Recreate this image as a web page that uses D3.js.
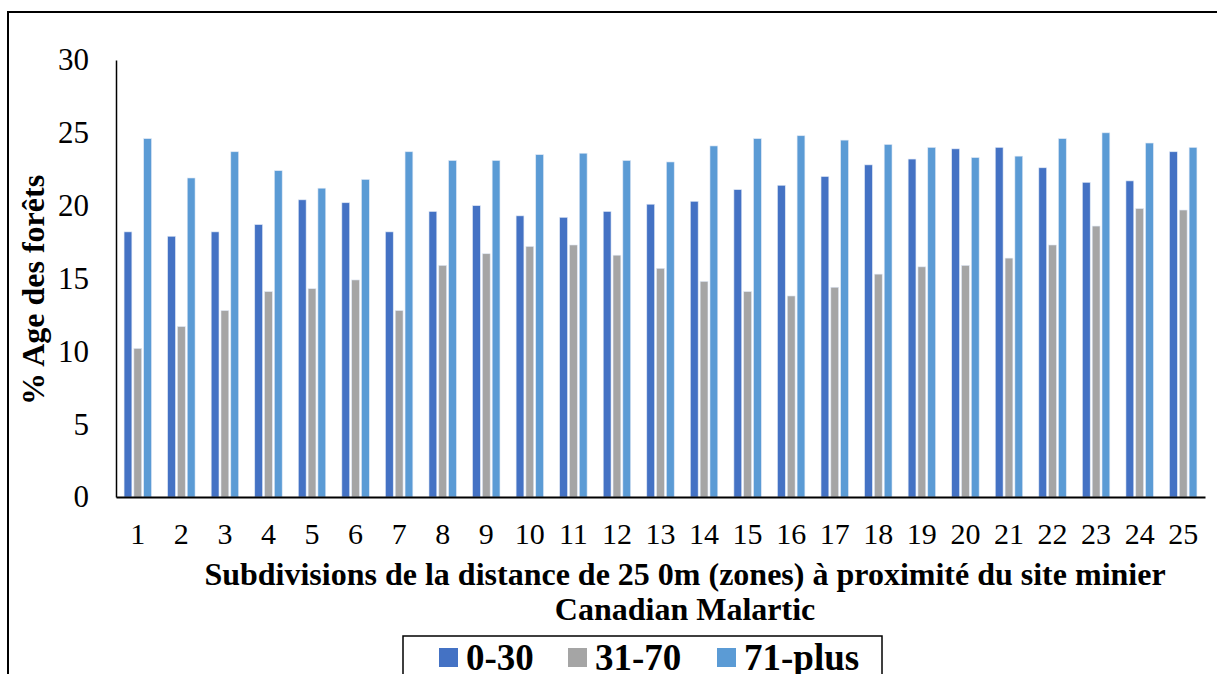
<!DOCTYPE html>
<html>
<head>
<meta charset="utf-8">
<style>
  body { margin: 0; background: #fff; }
  svg { display: block; font-family: "Liberation Serif", "Times New Roman", serif; }
</style>
</head>
<body>
<div id="container"></div>
<script src="https://d3js.org/d3.v7.min.js"></script>
<script>
  // zones 1..25
  const zones = d3.range(1, 26).map(String);
  const seriesNames = ["0-30", "31-70", "71-plus"];
  const colors = ["#4472C4", "#A5A5A5", "#5B9BD5"];

  // values (% of forest age class per zone)
  const age0_30 = [18.2, 17.9, 18.2, 18.7, 20.4, 20.2, 18.2, 19.6, 20.0, 19.3, 19.2, 19.6, 20.1,
                   20.3, 21.1, 21.4, 22.0, 22.8, 23.2, 23.9, 24.0, 22.6, 21.6, 21.7, 23.7];
  const age31_70 = [10.2, 11.7, 12.8, 14.1, 14.3, 14.9, 12.8, 15.9, 16.7, 17.2, 17.3, 16.6, 15.7,
                    14.8, 14.1, 13.8, 14.4, 15.3, 15.8, 15.9, 16.4, 17.3, 18.6, 19.8, 19.7];
  const age71_plus = [24.6, 21.9, 23.7, 22.4, 21.2, 21.8, 23.7, 23.1, 23.1, 23.5, 23.6, 23.1, 23.0,
                      24.1, 24.6, 24.8, 24.5, 24.2, 24.0, 23.3, 23.4, 24.6, 25.0, 24.3, 24.0];
  const yTicks = [0, 5, 10, 15, 20, 25, 30];

  const W = 1217, H = 674;
  const plot = { left: 116, right: 1205, top: 60, bottom: 497 };

  const svg = d3.select("#container").append("svg")
    .attr("width", W)
    .attr("height", H);

  // outer frame (runs off the right and bottom of the picture)
  svg.append("rect")
    .attr("x", 8).attr("y", 12)
    .attr("width", W + 20).attr("height", H + 20)
    .attr("fill", "none")
    .attr("stroke", "#000")
    .attr("stroke-width", 2);

  const x = d3.scaleBand()
    .domain(zones)
    .range([plot.left, plot.right])
    .padding(0);

  const xInner = d3.scaleBand()
    .domain(seriesNames)
    .range([0, x.bandwidth()])
    .paddingInner(0)
    .paddingOuter(0.72);

  const y = d3.scaleLinear()
    .domain([0, 30])
    .range([plot.bottom, plot.top]);

  const rows = zones.map((z, i) => ({
    zone: z,
    vals: [age0_30[i], age31_70[i], age71_plus[i]]
  }));

  const groups = svg.append("g")
    .selectAll("g")
    .data(rows)
    .join("g")
    .attr("transform", d => `translate(${x(d.zone)},0)`);

  groups.selectAll("rect")
    .data(d => d.vals.map((v, k) => ({ key: seriesNames[k], v: v, k: k })))
    .join("rect")
    .attr("x", d => xInner(d.key) + 1)
    .attr("width", xInner.bandwidth() - 2)
    .attr("y", d => y(d.v))
    .attr("height", d => plot.bottom - y(d.v))
    .attr("fill", d => colors[d.k])
    .attr("stroke", "#dfe8f5")
    .attr("stroke-width", 0.6);

  // y axis
  const yAxis = svg.append("g")
    .attr("transform", `translate(${plot.left},0)`)
    .call(d3.axisLeft(y).tickValues(yTicks).tickSize(0).tickSizeOuter(0).tickPadding(27));
  yAxis.select(".domain").attr("stroke", "#000").attr("stroke-width", 1.5);
  yAxis.selectAll("text")
    .attr("font-family", "Liberation Serif, serif")
    .attr("font-size", 31)
    .attr("fill", "#000");

  // x axis
  const xAxis = svg.append("g")
    .attr("transform", `translate(0,${plot.bottom})`)
    .call(d3.axisBottom(x).tickSize(0).tickSizeOuter(0).tickPadding(26));
  xAxis.select(".domain").attr("stroke", "#000").attr("stroke-width", 2);
  xAxis.selectAll("text")
    .attr("font-family", "Liberation Serif, serif")
    .attr("font-size", 30)
    .attr("fill", "#000");

  // axis titles
  svg.append("text")
    .attr("transform", "translate(44,290) rotate(-90)")
    .attr("text-anchor", "middle")
    .attr("font-weight", "bold")
    .attr("font-size", 32)
    .text("% Age des forêts");

  const xTitle = svg.append("text")
    .attr("text-anchor", "middle")
    .attr("font-weight", "bold")
    .attr("font-size", 32);
  xTitle.append("tspan").attr("x", 685).attr("y", 585)
    .text("Subdivisions de la distance de 25 0m (zones) à proximité du site minier");
  xTitle.append("tspan").attr("x", 685).attr("y", 620)
    .text("Canadian Malartic");

  // legend (box runs off the bottom)
  const legend = svg.append("g");
  legend.append("rect")
    .attr("x", 403).attr("y", 636)
    .attr("width", 479).attr("height", 60)
    .attr("fill", "#fff")
    .attr("stroke", "#000")
    .attr("stroke-width", 1.5);

  const legendX = [439, 568, 717];
  const items = legend.selectAll("g.item")
    .data(seriesNames)
    .join("g")
    .attr("class", "item")
    .attr("transform", (d, i) => `translate(${legendX[i]},648)`);
  items.append("rect")
    .attr("width", 19).attr("height", 19)
    .attr("fill", (d, i) => colors[i]);
  items.append("text")
    .attr("x", 27).attr("y", 22)
    .attr("font-weight", "bold")
    .attr("font-size", 37)
    .text(d => d);
</script>
</body>
</html>
